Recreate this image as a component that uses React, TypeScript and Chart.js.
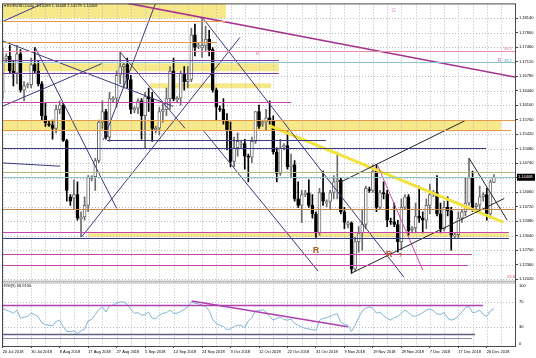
import React, { useEffect, useRef } from "react";
import { Chart, registerables } from "chart.js";

Chart.register(...registerables);

// ---- Daily EURUSD bars (broker with Sunday bars), index 0 = 20 Jul 2018 ----
const opens = [
  1.1640, 1.1718, 1.1725, 1.1690, 1.1685, 1.1730, 1.1645, 1.1655, 1.1658, 1.1705,
  1.1690, 1.1660, 1.1585, 1.1566, 1.1563, 1.1555, 1.1600, 1.1610, 1.1527, 1.1395,
  1.1392, 1.1400, 1.1343, 1.1348, 1.1375, 1.1438, 1.1442, 1.1480, 1.1570, 1.1595,
  1.1535, 1.1622, 1.1626, 1.1680, 1.1700, 1.1705, 1.1670, 1.1598, 1.1603, 1.1620,
  1.1585, 1.1630, 1.1625, 1.1552, 1.1556, 1.1595, 1.1600, 1.1625, 1.1690, 1.1622,
  1.1626, 1.1685, 1.1665, 1.1670, 1.1775, 1.1748, 1.1744, 1.1750, 1.1765, 1.1740,
  1.1645, 1.1602, 1.1600, 1.1575, 1.1550, 1.1478, 1.1510, 1.1518, 1.1520, 1.1490,
  1.1488, 1.1525, 1.1595, 1.1565, 1.1570, 1.1580, 1.1575, 1.1500, 1.1450, 1.1512,
  1.1515, 1.1465, 1.1470, 1.1390, 1.1375, 1.1400, 1.1404, 1.1375, 1.1355, 1.1310,
  1.1405, 1.1380, 1.1384, 1.1405, 1.1430, 1.1435, 1.1360, 1.1330, 1.1334, 1.1225,
  1.1290, 1.1310, 1.1330, 1.1412, 1.1410, 1.1455, 1.1370, 1.1405, 1.1402, 1.1338,
  1.1336, 1.1330, 1.1290, 1.1370, 1.1395, 1.1318, 1.1322, 1.1350, 1.1345, 1.1340,
  1.1375, 1.1402, 1.1405, 1.1355, 1.1320, 1.1370, 1.1362, 1.1303, 1.1306, 1.1345,
  1.1360, 1.1380, 1.1440, 1.1372, 1.1376, 1.1395, 1.1400, 1.1355, 1.14289,
];
const highs = [
  1.1745, 1.1730, 1.1750, 1.1715, 1.1750, 1.1740, 1.1665, 1.1662, 1.1720, 1.1745,
  1.1715, 1.1665, 1.1615, 1.1572, 1.1575, 1.1610, 1.1620, 1.1615, 1.1530, 1.1400,
  1.1435, 1.1430, 1.1360, 1.1395, 1.1445, 1.1445, 1.1485, 1.1575, 1.1620, 1.1600,
  1.1640, 1.1630, 1.1690, 1.1735, 1.1710, 1.1720, 1.1680, 1.1606, 1.1625, 1.1625,
  1.1640, 1.1650, 1.1640, 1.1560, 1.1605, 1.1615, 1.1650, 1.1700, 1.1720, 1.1630,
  1.1690, 1.1700, 1.1700, 1.1790, 1.1800, 1.1755, 1.1815, 1.1795, 1.1785, 1.1745,
  1.1650, 1.1608, 1.1625, 1.1590, 1.1570, 1.1535, 1.1545, 1.1525, 1.1530, 1.1495,
  1.1535, 1.1595, 1.1610, 1.1575, 1.1600, 1.1620, 1.1585, 1.1510, 1.1530, 1.1520,
  1.1550, 1.1495, 1.1480, 1.1430, 1.1410, 1.1410, 1.1435, 1.1400, 1.1360, 1.1415,
  1.1455, 1.1388, 1.1410, 1.1445, 1.1500, 1.1440, 1.1370, 1.1338, 1.1336, 1.1300,
  1.1325, 1.1365, 1.1420, 1.1418, 1.1470, 1.1470, 1.1410, 1.1430, 1.1410, 1.1345,
  1.1380, 1.1340, 1.1390, 1.1400, 1.1400, 1.1325, 1.1380, 1.1420, 1.1360, 1.1390,
  1.1425, 1.1410, 1.1445, 1.1380, 1.1385, 1.1395, 1.1370, 1.1310, 1.1360, 1.1365,
  1.1440, 1.1485, 1.1455, 1.1380, 1.1420, 1.1405, 1.1415, 1.1435, 1.14468,
];
const lows = [
  1.1625, 1.1712, 1.1685, 1.1655, 1.1660, 1.1640, 1.1620, 1.1650, 1.1650, 1.1685,
  1.1655, 1.1575, 1.1560, 1.1560, 1.1530, 1.1545, 1.1590, 1.1525, 1.1385, 1.1375,
  1.1365, 1.1340, 1.1301, 1.1340, 1.1360, 1.1432, 1.1410, 1.1475, 1.1555, 1.1530,
  1.1525, 1.1618, 1.1605, 1.1660, 1.1650, 1.1650, 1.1590, 1.1592, 1.1590, 1.1530,
  1.1510, 1.1595, 1.1525, 1.1545, 1.1540, 1.1570, 1.1585, 1.1600, 1.1620, 1.1615,
  1.1610, 1.1645, 1.1650, 1.1665, 1.1725, 1.1742, 1.1722, 1.1735, 1.1725, 1.1640,
  1.1575, 1.1595, 1.1565, 1.1505, 1.1465, 1.1465, 1.1490, 1.1510, 1.1460, 1.1430,
  1.1475, 1.1520, 1.1555, 1.1560, 1.1550, 1.1565, 1.1495, 1.1430, 1.1445, 1.1505,
  1.1460, 1.1440, 1.1385, 1.1370, 1.1335, 1.1395, 1.1370, 1.1345, 1.1300, 1.1305,
  1.1375, 1.1372, 1.1365, 1.1390, 1.1390, 1.1355, 1.1320, 1.1322, 1.1216, 1.1220,
  1.1265, 1.1270, 1.1320, 1.1405, 1.1405, 1.1360, 1.1365, 1.1390, 1.1325, 1.1330,
  1.1325, 1.1265, 1.1270, 1.1365, 1.1305, 1.1310, 1.1310, 1.1335, 1.1310, 1.1320,
  1.1355, 1.1395, 1.1350, 1.1310, 1.1315, 1.1350, 1.1270, 1.1298, 1.1300, 1.1335,
  1.1350, 1.1375, 1.1360, 1.1365, 1.1365, 1.1385, 1.1340, 1.1345, 1.14279,
];
const closes = [
  1.1720, 1.1725, 1.1690, 1.1685, 1.1730, 1.1645, 1.1655, 1.1658, 1.1705, 1.1690,
  1.1660, 1.1585, 1.1568, 1.1563, 1.1555, 1.1600, 1.1610, 1.1527, 1.1410, 1.1385,
  1.1400, 1.1345, 1.1348, 1.1375, 1.1440, 1.1442, 1.1480, 1.1570, 1.1595, 1.1535,
  1.1625, 1.1626, 1.1680, 1.1700, 1.1705, 1.1670, 1.1600, 1.1603, 1.1620, 1.1585,
  1.1630, 1.1625, 1.1555, 1.1556, 1.1595, 1.1600, 1.1625, 1.1690, 1.1625, 1.1626,
  1.1685, 1.1665, 1.1670, 1.1775, 1.1745, 1.1750, 1.1750, 1.1765, 1.1740, 1.1645,
  1.1605, 1.1600, 1.1575, 1.1550, 1.1478, 1.1510, 1.1525, 1.1520, 1.1490, 1.1488,
  1.1525, 1.1595, 1.1560, 1.1570, 1.1580, 1.1575, 1.1500, 1.1450, 1.1510, 1.1515,
  1.1465, 1.1470, 1.1390, 1.1375, 1.1400, 1.1404, 1.1375, 1.1355, 1.1310, 1.1405,
  1.1385, 1.1384, 1.1405, 1.1430, 1.1435, 1.1360, 1.1335, 1.1334, 1.1225, 1.1290,
  1.1310, 1.1330, 1.1415, 1.1410, 1.1455, 1.1370, 1.1405, 1.1402, 1.1340, 1.1336,
  1.1330, 1.1290, 1.1370, 1.1395, 1.1315, 1.1322, 1.1350, 1.1345, 1.1340, 1.1375,
  1.1400, 1.1405, 1.1355, 1.1320, 1.1370, 1.1362, 1.1305, 1.1306, 1.1345, 1.1360,
  1.1380, 1.1440, 1.1370, 1.1376, 1.1395, 1.1400, 1.1355, 1.1430, 1.14408,
];

// RSI values
const rsiValues = [
  60, 57, 55, 52, 57, 44, 46, 47, 52, 50,
  46, 37, 34, 33, 32, 39, 41, 31, 23, 23,
  24, 20, 24, 27, 40, 42, 50, 58, 62, 54,
  64, 65, 68, 70, 70, 66, 58, 52, 53, 49,
  50, 54, 44, 43, 49, 52, 53, 57, 52, 52,
  55, 58, 62, 70, 68, 67, 65, 63, 56, 42,
  36, 33, 31, 26, 27, 31, 33, 33, 29, 40,
  45, 56, 56, 58, 54, 47, 41, 44, 46, 42,
  41, 43, 36, 33, 30, 28, 27, 26, 25, 41,
  44, 45, 47, 50, 51, 38, 34, 33, 23, 33,
  45, 56, 60, 62, 60, 52, 54, 48, 44, 41,
  45, 47, 52, 57, 53, 48, 47, 50, 53, 57,
  59, 56, 51, 50, 53, 44, 41, 43, 48, 54,
  61, 63, 53, 54, 57, 50, 47, 56, 58.913,
];

// ---- axes ----
const tickIndex = [0, 8, 16, 24, 32, 40, 48, 56, 64, 72, 80, 88, 96, 104, 112, 120, 128, 136];
const tickLabels = [
  "20 Jul 2018", "30 Jul 2018", "8 Aug 2018", "17 Aug 2018", "27 Aug 2018", "5 Sep 2018",
  "14 Sep 2018", "24 Sep 2018", "3 Oct 2018", "12 Oct 2018", "22 Oct 2018", "31 Oct 2018",
  "9 Nov 2018", "19 Nov 2018", "28 Nov 2018", "7 Dec 2018", "17 Dec 2018", "26 Dec 2018",
];
const priceTicks = [
  1.1814, 1.178, 1.1746, 1.1712, 1.1678, 1.1644, 1.161, 1.1576, 1.1542, 1.1508,
  1.1474, 1.144, 1.1406, 1.1372, 1.1338, 1.1304, 1.127, 1.1236, 1.1202,
];
const rsiTicks = [100, 70, 30, 0];
const priceMin = 1.119267;
const priceMax = 1.184843;
const idxMin = -0.2;
const idxMax = 144.2;

// ---- drawn objects (bar index, price) ----
// zones: [fromIdx, toIdx, lowPrice, highPrice]
const zones = [
  [-0.2, 62.7, 1.18133, 1.18484],
  [-0.2, 77.6, 1.16892, 1.17079],
  [41.4, 75.4, 1.16494, 1.16611],
  [-0.2, 140.0, 1.155, 1.15744],
  [24.0, 142.2, 1.13004, 1.13098],
];
// horizontal levels: [price, fromIdx, toIdx, style]
const levels: [number, number, number, string][] = [
  [1.1807, -0.2, 62.7, "orange"],
  [1.17578, -0.2, 60.2, "orange"],
  [1.17367, -0.2, 144.2, "pink"],
  [1.17149, -0.2, 77.6, "purple"],
  [1.1711, -0.2, 144.2, "teal"],
  [1.16852, -0.2, 77.6, "purple"],
  [1.16173, -0.2, 81.0, "magenta"],
  [1.15761, -0.2, 144.2, "orange"],
  [1.1551, -0.2, 142.8, "orange"],
  [1.15287, 29.3, 90.8, "navy"],
  [1.151, -0.2, 135.8, "navy"],
  [1.14533, -0.2, 144.2, "olive"],
  [1.14416, -0.2, 144.2, "teal"],
  [1.1366, -0.2, 144.2, "brown"],
  [1.13128, -0.2, 142.2, "magenta"],
  [1.12974, -0.2, 142.2, "navy"],
  [1.12606, -0.2, 131.8, "magenta"],
  [1.12348, -0.2, 130.6, "magenta"],
];
// trend lines: [idx1, price1, idx2, price2, style]
const trends: [number, number, number, number, string][] = [
  [35.28, 1.18484, 144.2, 1.16751, "magentaThick"],
  [0.08, 1.18063, 11.32, 1.18484, "navy"],
  [-0.2, 1.17611, 47.84, 1.16072, "navy"],
  [9.07, 1.17461, 32.02, 1.13676, "navy"],
  [-0.2, 1.16067, 27.81, 1.17072, "navy"],
  [22.19, 1.13011, 66.66, 1.17688, "navy"],
  [32.95, 1.17344, 51.21, 1.15557, "navy"],
  [28.26, 1.15276, 42.92, 1.18484, "navy"],
  [56.3, 1.18133, 112.7, 1.12067, "navy"],
  [56.3, 1.1551, 88.6, 1.12208, "navy"],
  [95.03, 1.14299, 130.1, 1.15744, "black"],
  [97.84, 1.12154, 140.9, 1.1391, "black"],
  [105.3, 1.1469, 118.0, 1.12231, "pink2"],
  [131.07, 1.14847, 141.74, 1.13402, "black"],
  [-0.2, 1.14744, 16.1, 1.14667, "navy"],
  [75.08, 1.15613, 140.53, 1.13355, "yellow"],
];
// RSI pane objects
const rsiLevels: [number, number, number, string][] = [
  [65.6, -0.2, 134.9, "rsiMagenta"],
  [19.0, -0.2, 132.7, "rsiSlate"],
  [13.2, -0.2, 131.8, "rsiGray"],
];
const rsiTrends: [number, number, number, number, string][] = [
  [53.1, 71.4, 96.9, 30.6, "rsiMagenta"],
];
// text notes: [idx, price, text, style]
const notes: [number, number, string, string][] = [
  [109.9, 1.18304, "G", "gLabel"],
  [71.6, 1.17313, "R", "pinkR"],
  [139.6, 1.17149, "R", "violetR"],
  [88.0, 1.12699, "R", "brownR"],
  [108.5, 1.12594, "R", "brownR"],
  [111.7, 1.12583, "?", "brownQ"],
  [141.9, 1.17423, "38.2", "fibPink"],
  [141.9, 1.17126, "38.2", "fibTeal"],
  [142.8, 1.12074, "23.6", "fibRed"],
];

const FONT = "'Liberation Sans', Arial, sans-serif";
const STY: Record<string, { c: string; w: number }> = {
  orange: { c: "#e59a4e", w: 1 },
  pink: { c: "#e88aaa", w: 1 },
  pink2: { c: "#d248a8", w: 1 },
  purple: { c: "#7e3ca0", w: 1 },
  teal: { c: "#8cc6cc", w: 1 },
  magenta: { c: "#c646ae", w: 1 },
  navy: { c: "#3a3a7e", w: 1 },
  olive: { c: "#b2b27a", w: 1 },
  brown: { c: "#c4884a", w: 1 },
  magentaThick: { c: "#a6348e", w: 1.6 },
  black: { c: "#222222", w: 1 },
  yellow: { c: "#f1e23c", w: 3 },
  rsiMagenta: { c: "#b03fb0", w: 1.5 },
  rsiSlate: { c: "#5e5e7e", w: 1.5 },
  rsiGray: { c: "#8a8aa8", w: 1 },
};
const TXT: Record<string, { c: string; f: string }> = {
  gLabel: { c: "#d27ad2", f: `5px ${FONT}` },
  pinkR: { c: "#e27ab6", f: `5px ${FONT}` },
  violetR: { c: "#b37ac6", f: `5px ${FONT}` },
  brownR: { c: "#b5561e", f: `bold 9px ${FONT}` },
  brownQ: { c: "#b5561e", f: `bold 6px ${FONT}` },
  fibPink: { c: "#e07090", f: `4px ${FONT}` },
  fibTeal: { c: "#5aa6b6", f: `4px ${FONT}` },
  fibRed: { c: "#e05050", f: `4px ${FONT}` },
};

function seg(ctx: CanvasRenderingContext2D, x1: number, y1: number, x2: number, y2: number) {
  ctx.beginPath();
  ctx.moveTo(x1, y1);
  ctx.lineTo(x2, y2);
  ctx.stroke();
}

const overlay = {
  id: "mtOverlay",
  beforeDatasetsDraw(chart: any) {
    const { ctx, chartArea: a } = chart;
    const x = chart.scales.x, y = chart.scales.y, r = chart.scales.rsi;
    ctx.save();
    ctx.beginPath();
    ctx.rect(a.left, a.top, a.right - a.left, a.bottom - a.top);
    ctx.clip();
    ctx.fillStyle = "rgba(246, 228, 118, 0.85)";
    zones.forEach(([i1, i2, p1, p2]) => {
      const x1 = x.getPixelForValue(i1), x2 = x.getPixelForValue(i2);
      const y1 = y.getPixelForValue(p2), y2 = y.getPixelForValue(p1);
      ctx.fillRect(x1, y1, x2 - x1, y2 - y1);
    });
    ctx.strokeStyle = "#b4b9c2";
    ctx.lineWidth = 1;
    ctx.setLineDash([1, 2]);
    for (let i = 0; i <= idxMax; i += 4) {
      const px = Math.round(x.getPixelForValue(i)) + 0.5;
      seg(ctx, px, a.top, px, a.bottom);
    }
    priceTicks.forEach((p) => {
      const py = Math.round(y.getPixelForValue(p)) + 0.5;
      seg(ctx, a.left, py, a.right, py);
    });
    [70, 30].forEach((v) => {
      const py = Math.round(r.getPixelForValue(v)) + 0.5;
      seg(ctx, a.left, py, a.right, py);
    });
    ctx.restore();
  },
  afterDatasetsDraw(chart: any) {
    const { ctx, chartArea: a } = chart;
    const x = chart.scales.x, y = chart.scales.y, r = chart.scales.rsi;
    ctx.save();
    ctx.beginPath();
    ctx.rect(a.left, a.top, a.right - a.left, a.bottom - a.top);
    ctx.clip();
    levels.forEach(([p, i1, i2, k]) => {
      ctx.strokeStyle = STY[k].c;
      ctx.lineWidth = STY[k].w;
      const py = Math.round(y.getPixelForValue(p)) + 0.5;
      seg(ctx, x.getPixelForValue(i1), py, x.getPixelForValue(i2), py);
    });
    rsiLevels.forEach(([v, i1, i2, k]) => {
      ctx.strokeStyle = STY[k].c;
      ctx.lineWidth = STY[k].w;
      const py = Math.round(r.getPixelForValue(v)) + 0.5;
      seg(ctx, x.getPixelForValue(i1), py, x.getPixelForValue(i2), py);
    });
    ctx.textAlign = "center";
    ctx.textBaseline = "middle";
    notes.forEach(([i, p, t, k]) => {
      ctx.fillStyle = TXT[k].c;
      ctx.font = TXT[k].f;
      ctx.fillText(t, x.getPixelForValue(i), y.getPixelForValue(p));
    });
    ctx.restore();
  },
  afterDraw(chart: any) {
    const { ctx, chartArea: a } = chart;
    const y = chart.scales.y, r = chart.scales.rsi;
    const last = closes.length - 1;
    ctx.save();
    // pane separator
    ctx.fillStyle = "#bcbcbc";
    ctx.fillRect(a.left, y.bottom - 2.5, a.right - a.left, 3);
    ctx.strokeStyle = "#e6e6e6";
    ctx.setLineDash([1, 1]);
    ctx.lineWidth = 1;
    seg(ctx, a.left, Math.round(y.bottom) - 0.5, a.right, Math.round(y.bottom) - 0.5);
    ctx.setLineDash([]);
    // frame
    ctx.strokeStyle = "#4a4a4a";
    ctx.lineWidth = 1;
    ctx.strokeRect(a.left + 0.5, a.top + 0.5, a.right - a.left - 1, a.bottom - a.top);
    // current price box
    const py = y.getPixelForValue(closes[last]);
    ctx.fillStyle = "#000";
    ctx.fillRect(a.right + 1, py - 3.5, 18, 7);
    ctx.fillStyle = "#fff";
    ctx.font = `4px ${FONT}`;
    ctx.textAlign = "left";
    ctx.textBaseline = "middle";
    ctx.fillText(closes[last].toFixed(5), a.right + 2, py);
    // RSI axis labels
    ctx.fillStyle = "#000";
    rsiTicks.forEach((v) => {
      let ry = r.getPixelForValue(v);
      ry = Math.min(Math.max(ry, r.top + 2.7), r.bottom - 2.2);
      ctx.fillText(String(v), a.right + 3, ry);
    });
    // header + indicator caption
    ctx.fillStyle = "#111";
    ctx.fillText(
      `\u25BE EURUSD,Daily  ${opens[last].toFixed(5)} ${highs[last].toFixed(5)} ${lows[last].toFixed(5)} ${closes[last].toFixed(5)}`,
      a.left + 2, a.top + 2.5
    );
    ctx.fillText(`RSI(9) ${rsiValues[last].toFixed(4)}`, a.left + 2, r.top + 2.5);
    ctx.restore();
  },
};

export default function App() {
  const ref = useRef<HTMLCanvasElement>(null);
  useEffect(() => {
    const idx = closes.map((_, i) => i);
    const bull = idx.map((i) => closes[i] >= opens[i]);
    const lineSets = trends.map(([i1, p1, i2, p2, k]) => ({
      type: "line" as const,
      data: [{ x: i1, y: p1 }, { x: i2, y: p2 }],
      borderColor: STY[k].c,
      borderWidth: STY[k].w,
      pointRadius: 0,
      tension: 0,
      yAxisID: "y",
      order: 1,
    }));
    const rsiLineSets = rsiTrends.map(([i1, v1, i2, v2, k]) => ({
      type: "line" as const,
      data: [{ x: i1, y: v1 }, { x: i2, y: v2 }],
      borderColor: STY[k].c,
      borderWidth: STY[k].w,
      pointRadius: 0,
      tension: 0,
      yAxisID: "rsi",
      order: 1,
    }));
    const chart = new Chart(ref.current as HTMLCanvasElement, {
      type: "bar",
      data: {
        datasets: [
          ...lineSets,
          ...rsiLineSets,
          {
            type: "line",
            data: rsiValues.map((v, i) => ({ x: i, y: v })),
            borderColor: "#7fb3d6",
            borderWidth: 1,
            pointRadius: 0,
            tension: 0,
            yAxisID: "rsi",
            order: 1,
          },
          {
            type: "bar",
            data: idx.map((i) => ({ x: i, y: [opens[i], closes[i]] })),
            backgroundColor: bull.map((b) => (b ? "#ffffff" : "#000000")),
            borderColor: bull.map((b) => (b ? "#6c6c6c" : "#000000")),
            borderWidth: 1,
            borderSkipped: false,
            barThickness: 3,
            grouped: false,
            yAxisID: "y",
            order: 2,
          },
          {
            type: "bar",
            data: idx.map((i) => ({ x: i, y: [lows[i], highs[i]] })),
            backgroundColor: bull.map((b) => (b ? "#6c6c6c" : "#000000")),
            borderWidth: 0,
            barThickness: 1,
            grouped: false,
            yAxisID: "y",
            order: 3,
          },
        ] as any,
      },
      options: {
        responsive: false,
        animation: false,
        devicePixelRatio: 1,
        events: [],
        layout: { padding: { left: 2, top: 3, right: 0, bottom: 0 } },
        plugins: { legend: { display: false }, tooltip: { enabled: false } },
        scales: {
          x: {
            type: "linear",
            min: idxMin,
            max: idxMax,
            offset: false,
            bounds: "data",
            position: "bottom",
            grid: { display: true, offset: false, drawOnChartArea: false, drawTicks: true, tickLength: 2, color: "#404040" },
            border: { display: false },
            ticks: {
              autoSkip: false,
              maxRotation: 0,
              minRotation: 0,
              align: "start",
              padding: 1,
              color: "#000",
              font: { family: FONT, size: 4 },
              callback: (v: any) => {
                const k = tickIndex.indexOf(Number(v));
                return k >= 0 ? tickLabels[k] : "";
              },
            },
            afterBuildTicks: (s: any) => {
              s.ticks = tickIndex.map((v) => ({ value: v }));
            },
            afterFit: (s: any) => {
              s.height = 12;
            },
          },
          y: {
            type: "linear",
            axis: "y",
            position: "right",
            stack: "panes",
            stackWeight: 280,
            min: priceMin,
            max: priceMax,
            bounds: "data",
            grid: { display: true, drawOnChartArea: false, drawTicks: true, tickLength: 2, color: "#404040" },
            border: { display: false },
            ticks: {
              autoSkip: false,
              padding: 1,
              color: "#000",
              font: { family: FONT, size: 4 },
              callback: (v: any) => Number(v).toFixed(5),
            },
            afterBuildTicks: (s: any) => {
              s.ticks = priceTicks.map((v) => ({ value: v }));
            },
            afterFit: (s: any) => {
              s.width = 20;
            },
          },
          rsi: {
            type: "linear",
            axis: "y",
            position: "right",
            stack: "panes",
            stackWeight: 63,
            min: 0,
            max: 100,
            bounds: "data",
            grid: { display: false },
            border: { display: false },
            ticks: { display: false },
            afterFit: (s: any) => {
              s.width = 20;
            },
          },
        } as any,
      },
      plugins: [overlay],
    });
    return () => chart.destroy();
  }, []);
  return (
    <div style={{ position: "fixed", left: 0, top: 0, width: 536, height: 358, background: "#fff" }}>
      <canvas ref={ref} width={536} height={358} style={{ display: "block" }} />
    </div>
  );
}
